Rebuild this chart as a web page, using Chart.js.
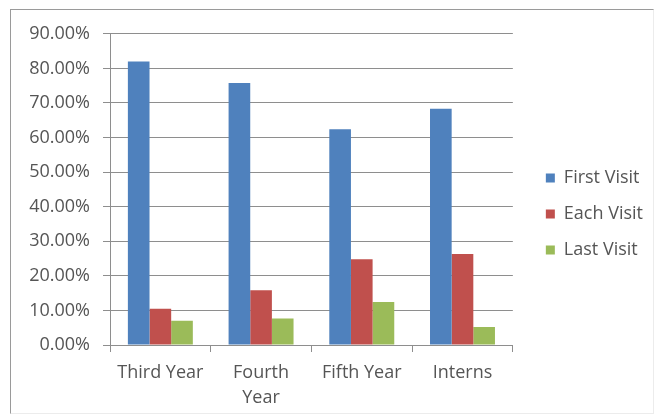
<!DOCTYPE html>
<html>
<head>
<meta charset="utf-8">
<script src="https://cdn.jsdelivr.net/npm/chart.js@4/dist/chart.umd.min.js"></script>
<style>
  html, body { margin:0; padding:0; background:#fff; }
  #frame { position:absolute; left:10px; top:9px; width:642px; height:403px;
           border-left:1px solid #9a9a9a; border-top:1px solid #9a9a9a;
           border-right:1px solid #ececec; border-bottom:1px solid #ececec; }
  #c { position:absolute; left:0; top:0; }
</style>
</head>
<body>
<div id="frame"><canvas id="c" width="642" height="403"></canvas></div>
<script>
// values (percent)
const categories = ['Third Year', ['Fourth', 'Year'], 'Fifth Year', 'Interns'];
const seriesNames = ['First Visit', 'Each Visit', 'Last Visit'];
const firstVisit = [82.0, 75.8, 62.4, 68.3];
const eachVisit  = [10.5, 15.8, 24.8, 26.3];
const lastVisit  = [7.0, 7.7, 12.4, 5.2];
const colors = ['#4F81BD', '#C0504D', '#9BBB59'];

const FONT = "'Open Sans', 'DejaVu Sans', sans-serif";
const TEXT = '#555555';
const GRID = '#8e8e8e';
const LEGEND_GAP = 15;   // space between plot and legend column
const LEGEND_LIFT = 8;   // legend sits a bit above the middle

function ds(i, data){
  return { label: seriesNames[i], data, backgroundColor: colors[i], borderWidth: 0,
           categoryPercentage: 0.645, barPercentage: 1 };
}

// widen the legend box and nudge where it draws its items
const legendGap = {
  id: 'legendGap',
  beforeUpdate(chart){
    const lg = chart.legend;
    if(!lg || lg._gapPatched) return;
    lg._gapPatched = true;
    const fit = lg.fit, draw = lg.draw;
    lg.fit = function(){ fit.call(this); if(this.width) this.width += LEGEND_GAP; };
    lg.draw = function(){
      this.left += LEGEND_GAP; this.top -= LEGEND_LIFT; this.bottom -= LEGEND_LIFT;
      draw.call(this);
      this.left -= LEGEND_GAP; this.top += LEGEND_LIFT; this.bottom += LEGEND_LIFT;
    };
  }
};

new Chart(document.getElementById('c'), {
  type: 'bar',
  data: { labels: categories, datasets: [ds(0, firstVisit), ds(1, eachVisit), ds(2, lastVisit)] },
  options: {
    responsive: false,
    devicePixelRatio: 1,
    animation: false,
    layout: { padding: { top: 21, bottom: 0, left: 0, right: 0 } },
    plugins: {
      tooltip: { enabled: false },
      legend: {
        position: 'right',
        labels: { boxWidth: 9, boxHeight: 9, padding: 18, color: TEXT,
                  font: { family: FONT, size: 18 } }
      }
    },
    scales: {
      x: {
        grid: { display: true, drawOnChartArea: false, drawTicks: true, tickLength: 7, color: GRID, offset: true },
        border: { display: true, color: GRID },
        ticks: { color: TEXT, padding: 8, maxRotation: 0, autoSkip: false,
                 font: { family: FONT, size: 18, lineHeight: 1.4 } },
        afterFit(s){ s.height = 68; }
      },
      y: {
        min: 0, max: 90,
        grid: { color: GRID, tickLength: 7 },
        border: { display: true, color: GRID },
        ticks: { stepSize: 10, padding: 13, color: TEXT,
                 font: { family: FONT, size: 18 },
                 callback: v => v.toFixed(2) + '%' },
        afterFit(s){ s.width = 99; }
      }
    }
  },
  plugins: [legendGap]
});
</script>
</body>
</html>
